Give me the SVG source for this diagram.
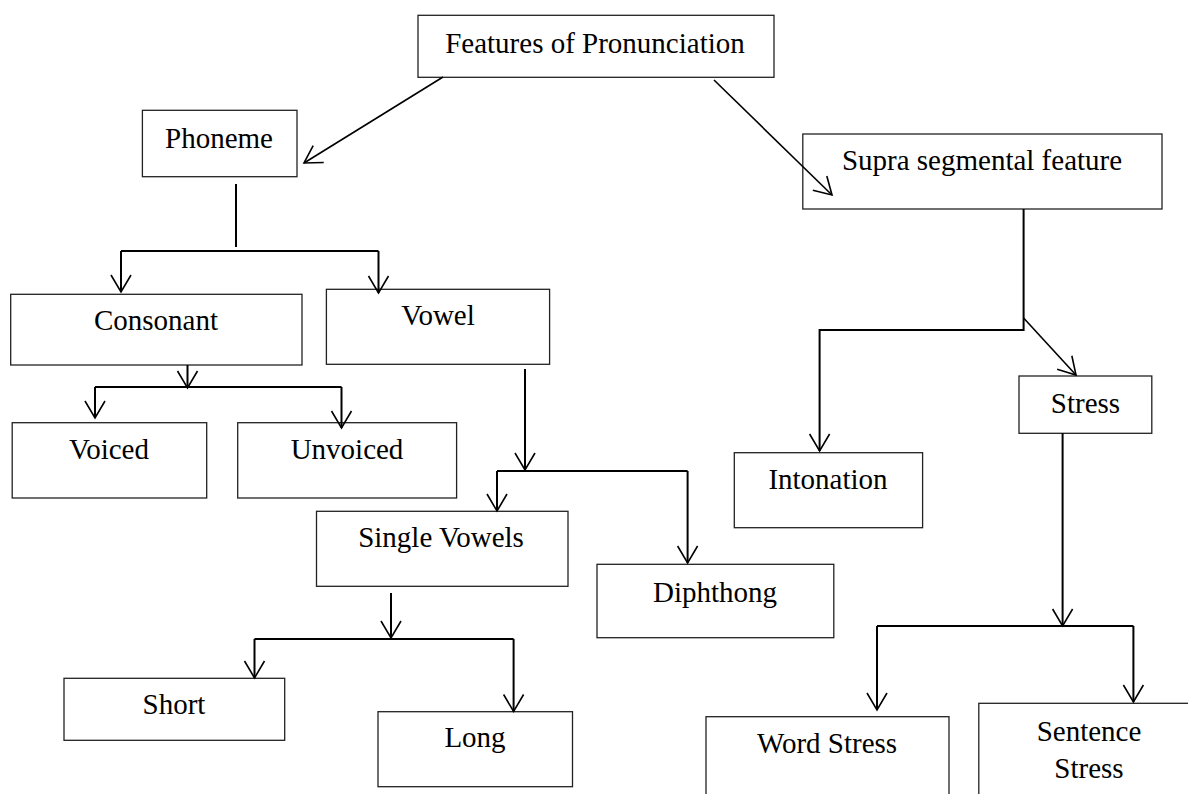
<svg xmlns="http://www.w3.org/2000/svg" width="1188" height="794" viewBox="0 0 1188 794">
<style>
.box{fill:#fff;stroke:#222;stroke-width:1.3}
.lbl{font-family:"Liberation Serif","Times New Roman",serif;font-size:29px;fill:#000;text-anchor:middle}
.c{fill:none;stroke:#000;stroke-width:2}
.d{fill:none;stroke:#000;stroke-width:1.6}
</style>
<defs>
<marker id="ah" viewBox="-20 -12 24 24" markerWidth="24" markerHeight="24" refX="0" refY="0" orient="auto" markerUnits="userSpaceOnUse" overflow="visible">
<path d="M-17,-10 L0,0 L-17,10" fill="none" stroke="#000" stroke-width="1.6"/>
</marker>
</defs>
<rect width="1188" height="794" fill="#fff"/>
<g id="features"><rect class="box" x="418" y="15.3" width="356" height="62"/><text class="lbl" x="595" y="53">Features of Pronunciation</text></g>
<g id="phoneme"><rect class="box" x="142.4" y="110.3" width="154.6" height="66.4"/><text class="lbl" x="219" y="148">Phoneme</text></g>
<g id="supra"><rect class="box" x="802.8" y="134" width="359.2" height="75"/><text class="lbl" x="982" y="170">Supra segmental feature</text></g>
<g id="consonant"><rect class="box" x="10.7" y="294.3" width="291.3" height="70.7"/><text class="lbl" x="156" y="330">Consonant</text></g>
<g id="vowel"><rect class="box" x="326.4" y="289.3" width="223.2" height="75"/><text class="lbl" x="438" y="325">Vowel</text></g>
<g id="voiced"><rect class="box" x="12.2" y="422.7" width="194.5" height="75.3"/><text class="lbl" x="109" y="459">Voiced</text></g>
<g id="unvoiced"><rect class="box" x="237.7" y="422.7" width="218.9" height="75.3"/><text class="lbl" x="347" y="459">Unvoiced</text></g>
<g id="single-vowels"><rect class="box" x="316.5" y="511.3" width="251.5" height="75"/><text class="lbl" x="441" y="547">Single Vowels</text></g>
<g id="diphthong"><rect class="box" x="597" y="564.3" width="236.8" height="73.4"/><text class="lbl" x="715" y="602">Diphthong</text></g>
<g id="short"><rect class="box" x="64" y="678.3" width="220.7" height="62"/><text class="lbl" x="174" y="714">Short</text></g>
<g id="long"><rect class="box" x="378" y="711.7" width="194.5" height="75"/><text class="lbl" x="475" y="747">Long</text></g>
<g id="stress"><rect class="box" x="1019" y="376" width="132.8" height="57.3"/><text class="lbl" x="1085.5" y="413">Stress</text></g>
<g id="intonation"><rect class="box" x="734.3" y="452.7" width="188.3" height="75"/><text class="lbl" x="828" y="489">Intonation</text></g>
<g id="word-stress"><rect class="box" x="706" y="716.7" width="243" height="100"/><text class="lbl" x="827" y="753">Word Stress</text></g>
<g id="sentence-stress"><rect class="box" x="978.8" y="703.3" width="230" height="110"/><text class="lbl" x="1089" y="741">Sentence</text><text class="lbl" x="1089" y="778">Stress</text></g>
<g id="connectors">
<line class="d" x1="443" y1="77" x2="304" y2="163" marker-end="url(#ah)"/>
<line class="d" x1="714" y1="80" x2="832" y2="195" marker-end="url(#ah)"/>
<path class="c" d="M236,184 V247"/>
<path class="c" d="M121,251 H378.5"/>
<path class="c" d="M121,251 V292" marker-end="url(#ah)"/>
<path class="c" d="M378.5,251 V293" marker-end="url(#ah)"/>
<path class="c" d="M187.5,365 V388" marker-end="url(#ah)"/>
<path class="c" d="M95,387 H341.5"/>
<path class="c" d="M95,387 V418" marker-end="url(#ah)"/>
<path class="c" d="M341.5,387 V428" marker-end="url(#ah)"/>
<path class="c" d="M525,369 V470" marker-end="url(#ah)"/>
<path class="c" d="M497,471 H687.6"/>
<path class="c" d="M497,471 V511" marker-end="url(#ah)"/>
<path class="c" d="M687.6,471 V563" marker-end="url(#ah)"/>
<path class="c" d="M391,593 V638" marker-end="url(#ah)"/>
<path class="c" d="M254.5,639 H513.6"/>
<path class="c" d="M254.5,639 V678" marker-end="url(#ah)"/>
<path class="c" d="M513.6,639 V711.5" marker-end="url(#ah)"/>
<path class="c" d="M1023.6,209 V330 H819.6 V451" marker-end="url(#ah)"/>
<line class="d" x1="1023.6" y1="318" x2="1076" y2="375" marker-end="url(#ah)"/>
<path class="c" d="M1062.6,433 V626" marker-end="url(#ah)"/>
<path class="c" d="M877,626 H1133.4"/>
<path class="c" d="M877,626 V710" marker-end="url(#ah)"/>
<path class="c" d="M1133.4,626 V702" marker-end="url(#ah)"/>
</g>
</svg>
